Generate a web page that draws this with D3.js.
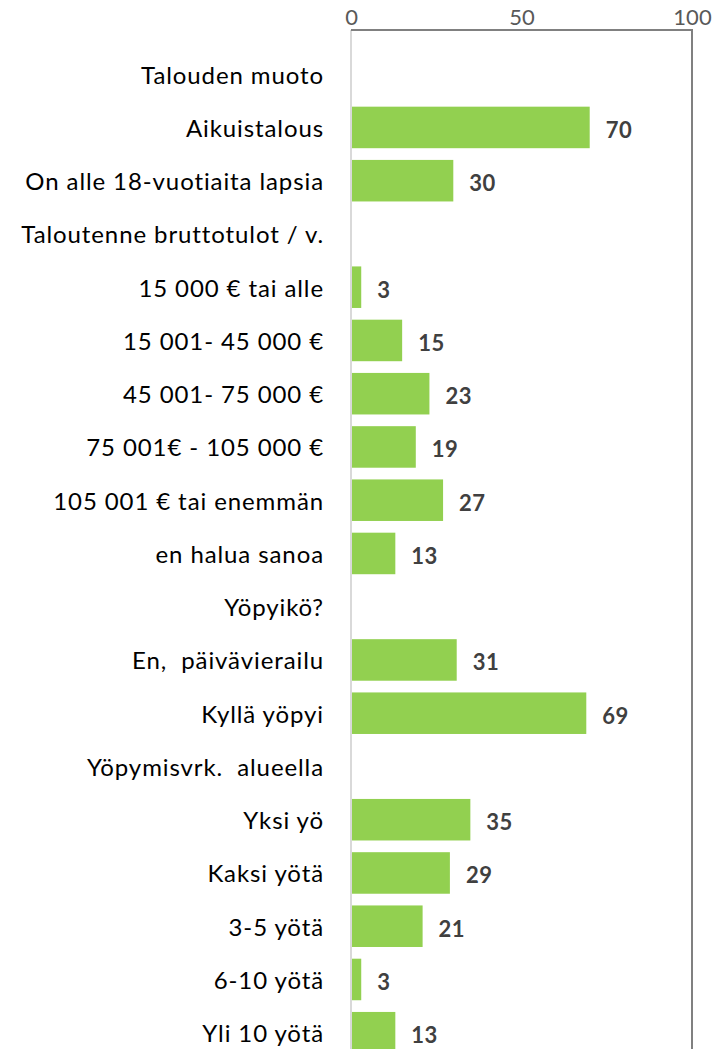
<!DOCTYPE html>
<html>
<head>
<meta charset="utf-8">
<script src="https://cdn.jsdelivr.net/npm/d3@7"></script>
<style>
  body { margin: 0; background: #fff; }
  text { white-space: pre; }
</style>
</head>
<body>
<div id="chart"></div>
<script>
// rows top to bottom; group headers have no value
const categories = [
  "Talouden muoto",
  "Aikuistalous",
  "On alle 18-vuotiaita lapsia",
  "Taloutenne bruttotulot / v.",
  "15 000 € tai alle",
  "15 001- 45 000 €",
  "45 001- 75 000 €",
  "75 001€ - 105 000 €",
  "105 001 € tai enemmän",
  "en halua sanoa",
  "Yöpyikö?",
  "En,  päivävierailu",
  "Kyllä yöpyi",
  "Yöpymisvrk.  alueella",
  "Yksi yö",
  "Kaksi yötä",
  "3-5 yötä",
  "6-10 yötä",
  "Yli 10 yötä"
];
const values = [null, 70, 30, null, 3, 15, 23, 19, 27, 13, null, 31, 69, null, 35, 29, 21, 3, 13];
const tickValues = [0, 50, 100];

const width = 715, height = 1049;
const fontFam = "Lato, 'Open Sans', sans-serif";

const rows = categories.map((c, i) => ({ cat: c, val: values[i] }));

const svg = d3.select('#chart')
  .append('svg')
  .attr('width', width)
  .attr('height', height);

const x = d3.scaleLinear()
  .domain([0, 100])
  .range([351, 692]);

const y = d3.scaleBand()
  .domain(categories)
  .range([41.7, 1065.2])
  .padding(0.22);

const plotTop = 30;

// bars
svg.append('g')
  .attr('fill', '#92d050')
  .selectAll('rect')
  .data(rows.filter(d => d.val != null))
  .join('rect')
    .attr('x', x(0) + 1)
    .attr('y', d => y(d.cat))
    .attr('width', d => x(d.val) - x(0) - 1)
    .attr('height', y.bandwidth());

// value labels
svg.append('g')
  .selectAll('text')
  .data(rows.filter(d => d.val != null))
  .join('text')
    .attr('x', d => x(d.val) + 16)
    .attr('y', d => y(d.cat) + y.bandwidth() / 2 + 2)
    .attr('dominant-baseline', 'central')
    .attr('font-family', fontFam)
    .attr('font-weight', 'bold')
    .attr('font-size', '22px')
    .attr('letter-spacing', '0.5px')
    .attr('fill', '#404040')
    .text(d => d.val);

// category labels
svg.append('g')
  .selectAll('text')
  .data(rows)
  .join('text')
    .attr('x', 324)
    .attr('y', d => y(d.cat) + y.bandwidth() / 2)
    .attr('dominant-baseline', 'central')
    .attr('text-anchor', 'end')
    .attr('font-family', fontFam)
    .attr('font-size', '24px')
    .attr('letter-spacing', '0.9px')
    .attr('fill', '#000')
    .text(d => d.cat);

// left axis line (light)
svg.append('line')
  .attr('x1', x(0)).attr('x2', x(0))
  .attr('y1', plotTop).attr('y2', height)
  .attr('stroke', '#d9d9d9')
  .attr('stroke-width', 2);

// top axis + right edge
svg.append('path')
  .attr('d', `M${x(0)},${plotTop}H${x(100)}V${height}`)
  .attr('fill', 'none')
  .attr('stroke', '#808080')
  .attr('stroke-width', 2);

// top ticks labels
svg.append('g')
  .attr('transform', `translate(0, 25)`)
  .call(d3.axisTop(x).tickValues(tickValues).tickSize(0).tickPadding(0))
  .call(g => g.select('.domain').remove())
  .call(g => g.selectAll('text')
    .attr('font-family', fontFam)
    .attr('font-size', '22px')
    .attr('fill', '#595959'));
</script>
</body>
</html>
